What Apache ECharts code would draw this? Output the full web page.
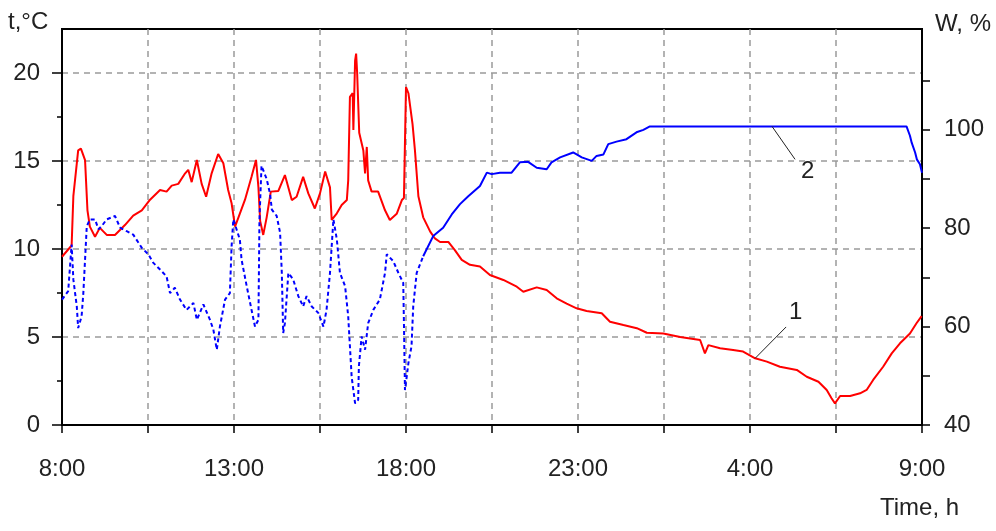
<!DOCTYPE html>
<html>
<head>
<meta charset="utf-8">
<script src="https://cdn.jsdelivr.net/npm/echarts@6/dist/echarts.min.js"></script>
<style>html,body{margin:0;padding:0;background:#fff;}#c{width:996px;height:531px;}</style>
</head>
<body>
<div id="c"></div>
<script>
// hours elapsed since 8:00
const xTickValues = [0, 5, 10, 15, 20, 25];
const xTickLabels = ['8:00', '13:00', '18:00', '23:00', '4:00', '9:00'];
const tTickValues = [0, 5, 10, 15, 20];
const tMinorTicks = [2.5, 7.5, 12.5, 17.5];
const wTickValues = [40, 50, 60, 70, 80, 90, 100, 110];
const wLabelValues = [40, 60, 80, 100];

// Curve 1: temperature t, °C (left axis)
const tempTime = [0,0.28,0.33,0.47,0.55,0.67,0.74,0.81,0.96,1.10,1.30,1.54,1.83,2.07,2.32,2.56,2.85,3.04,3.19,3.38,3.58,3.67,3.77,3.92,4.06,4.19,4.35,4.54,4.69,4.83,4.93,5.03,5.13,5.32,5.51,5.64,5.71,5.76,5.85,5.95,6.07,6.29,6.48,6.68,6.82,7.01,7.16,7.35,7.50,7.65,7.79,7.84,7.99,8.13,8.28,8.32,8.37,8.45,8.47,8.52,8.55,8.58,8.64,8.76,8.81,8.86,8.90,9.00,9.19,9.39,9.53,9.73,9.88,9.94,10.00,10.07,10.12,10.19,10.26,10.36,10.50,10.70,10.84,10.99,11.23,11.42,11.62,11.86,12.15,12.44,12.83,13.22,13.41,13.80,14.09,14.38,14.67,14.96,15.25,15.69,15.93,16.32,16.71,17.00,17.48,17.97,18.55,18.69,18.79,19.13,19.51,19.80,20.15,20.49,20.87,21.36,21.65,21.99,22.23,22.37,22.47,22.62,22.91,23.20,23.39,23.58,23.87,24.12,24.36,24.65,24.84,24.99];
const tempValue = [9.56,10.2,13.0,15.6,15.7,15.05,12.2,11.27,10.7,11.2,10.8,10.8,11.36,11.9,12.2,12.8,13.35,13.26,13.6,13.7,14.3,14.5,13.8,15.06,13.7,12.97,14.3,15.4,14.87,13.35,12.6,11.27,11.8,12.8,14.1,15.06,13.5,11.6,10.8,11.8,13.26,13.3,14.2,12.78,12.97,14.1,13.16,12.3,13.16,14.4,13.5,11.65,12.03,12.5,12.78,13.9,18.65,18.85,16.76,20.7,21.1,20.0,16.6,15.6,14.3,15.8,13.9,13.26,13.26,12.2,11.65,12.0,12.78,12.9,19.2,18.85,18.9,17.1,15.6,13.0,11.8,11.0,10.6,10.4,10.4,9.94,9.38,9.1,9.0,8.52,8.24,7.86,7.57,7.82,7.67,7.2,6.9,6.63,6.48,6.35,5.87,5.68,5.5,5.24,5.2,5.0,4.83,4.07,4.54,4.36,4.26,4.17,3.79,3.6,3.31,3.13,2.74,2.46,1.99,1.52,1.23,1.65,1.65,1.8,1.99,2.56,3.31,4.07,4.64,5.2,5.78,6.19];

// Curve 2: moisture W, % (right axis) - dotted part
const moistTimeA = [0,0.18,0.28,0.33,0.43,0.47,0.57,0.62,0.72,0.81,0.96,1.06,1.15,1.30,1.54,1.69,1.88,2.07,2.32,2.51,2.65,2.85,3.04,3.14,3.28,3.43,3.62,3.82,3.92,4.11,4.30,4.40,4.50,4.59,4.74,4.88,4.93,4.98,5.17,5.22,5.37,5.51,5.61,5.71,5.74,5.80,5.95,6.05,6.10,6.24,6.34,6.39,6.43,6.48,6.58,6.72,6.87,7.01,7.11,7.26,7.45,7.60,7.69,7.79,7.89,7.99,8.08,8.23,8.32,8.37,8.42,8.52,8.61,8.63,8.71,8.81,8.90,9.05,9.24,9.39,9.44,9.63,9.78,9.92,9.94,9.97,10.02,10.07,10.16,10.21,10.31,10.50];
const moistValueA = [65.5,67.2,76.7,69.6,64.1,59.7,62.1,66.8,80.4,81.8,81.8,79.8,80.4,81.8,82.5,80.1,79.4,78.7,76.0,74.7,73.0,71.6,70.2,66.8,67.9,65.5,63.4,64.8,61.4,64.5,61.4,59.4,55.3,60.0,65.5,66.8,76.3,81.8,77.7,73.6,68.2,63.4,60.0,61.4,81.8,92.7,90.0,86.9,83.8,82.5,79.1,70.9,58.7,60.7,70.9,69.6,66.2,64.1,66.2,64.1,62.8,60.0,63.4,70.9,81.8,77.7,70.9,68.2,62.1,56.0,49.8,44.4,45.1,51.9,58.0,55.3,60.7,63.4,65.5,70.9,74.7,73.3,70.9,68.9,60.7,47.1,49.8,52.6,56.0,64.1,70.9,74.3];
// solid part
const moistTimeB = [10.50,10.79,11.08,11.33,11.57,11.81,12.15,12.35,12.49,12.73,13.07,13.31,13.55,13.80,14.09,14.23,14.48,14.86,15.11,15.40,15.54,15.74,15.88,16.12,16.41,16.70,16.90,17.09,24.55,24.65,24.70,24.80,24.85,24.94,25.00];
const moistValueB = [74.3,78.4,80.1,82.8,84.9,86.5,88.6,91.3,91.0,91.3,91.3,93.4,93.5,92.3,92.0,93.4,94.4,95.4,94.4,93.7,94.7,95.0,97.1,97.6,98.1,99.5,100.0,100.7,100.7,98.8,97.4,95.4,94.0,93.0,91.3];

// leader lines for curve labels (data coordinates)
const leader1 = [[20.15, 3.79], [21.05, 5.57]];
const leader2 = [[20.64, 100.7], [21.31, 94.0]];

const zip = (a, b) => a.map((v, i) => [v, b[i]]);
const FONT = '"Liberation Sans", Arial, sans-serif';
const TXT = '#222';
const gridLine = { show: true, lineStyle: { color: '#9a9a9a', width: 1.5, type: [6, 5] } };

const chart = echarts.init(document.getElementById('c'), null, { renderer: 'canvas' });
chart.setOption({
  animation: false,
  backgroundColor: '#fff',
  grid: { left: 62, right: 74, top: 29, bottom: 106, show: true, borderColor: '#000', borderWidth: 2, backgroundColor: 'transparent' },
  xAxis: {
    type: 'value', min: 0, max: 25, interval: 2.5,
    axisLine: { show: true, onZero: false, lineStyle: { color: '#000', width: 2 } },
    axisTick: { show: true, length: 8, lineStyle: { color: '#000', width: 1.5 } },
    axisLabel: {
      customValues: xTickValues, margin: 32, fontSize: 24, fontFamily: FONT, color: TXT,
      formatter: v => { const i = xTickValues.indexOf(v); return i >= 0 ? xTickLabels[i] : ''; }
    },
    splitLine: gridLine
  },
  yAxis: [
    {
      type: 'value', position: 'left', min: 0, max: 22.5, interval: 5,
      axisLine: { show: true, lineStyle: { color: '#000', width: 2 } },
      axisTick: { show: true, customValues: tTickValues, length: 10, lineStyle: { color: '#000', width: 1.5 } },
      axisLabel: { customValues: tTickValues, margin: 22, fontSize: 24, fontFamily: FONT, color: TXT },
      splitLine: gridLine
    },
    {
      type: 'value', position: 'right', min: 40, max: 120.5, interval: 10,
      axisLine: { show: true, lineStyle: { color: '#000', width: 2 } },
      axisTick: { show: true, customValues: wTickValues, length: 8, lineStyle: { color: '#000', width: 1.5 } },
      axisLabel: { customValues: wLabelValues, margin: 22, fontSize: 24, fontFamily: FONT, color: TXT },
      splitLine: { show: false }
    },
    {
      type: 'value', position: 'left', min: 0, max: 22.5, interval: 2.5,
      axisLine: { show: false },
      axisTick: { show: true, customValues: tMinorTicks, length: 5, lineStyle: { color: '#000', width: 1.5 } },
      axisLabel: { show: false },
      splitLine: { show: false }
    }
  ],
  series: [
    {
      name: '1', type: 'line', yAxisIndex: 0, data: zip(tempTime, tempValue),
      showSymbol: false, symbol: 'none', lineStyle: { color: '#ff0000', width: 2 },
      markLine: {
        silent: true, symbol: 'none', label: { show: false },
        lineStyle: { color: '#222', width: 1, type: 'solid' },
        data: [[{ coord: leader1[0] }, { coord: leader1[1] }]]
      }
    },
    {
      name: '2a', type: 'line', yAxisIndex: 1, data: zip(moistTimeA, moistValueA),
      showSymbol: false, symbol: 'none', lineStyle: { color: '#0000ff', width: 2, type: [4, 3] }
    },
    {
      name: '2b', type: 'line', yAxisIndex: 1, data: zip(moistTimeB, moistValueB),
      showSymbol: false, symbol: 'none', lineStyle: { color: '#0000ff', width: 2 },
      markLine: {
        silent: true, symbol: 'none', label: { show: false },
        lineStyle: { color: '#222', width: 1, type: 'solid' },
        data: [[{ coord: leader2[0] }, { coord: leader2[1] }]]
      }
    }
  ],
  graphic: [
    { type: 'text', left: 8, top: 10, style: { text: 't,°C', fontSize: 24, fontFamily: FONT, fill: TXT } },
    { type: 'text', left: 935, top: 12, style: { text: 'W, %', fontSize: 24, fontFamily: FONT, fill: TXT } },
    { type: 'text', left: 880, top: 496, style: { text: 'Time, h', fontSize: 24, fontFamily: FONT, fill: TXT } },
    { type: 'text', left: 789, top: 300, style: { text: '1', fontSize: 24, fontFamily: FONT, fill: TXT } },
    { type: 'text', left: 801, top: 159, style: { text: '2', fontSize: 24, fontFamily: FONT, fill: TXT } }
  ]
});
</script>
</body>
</html>
